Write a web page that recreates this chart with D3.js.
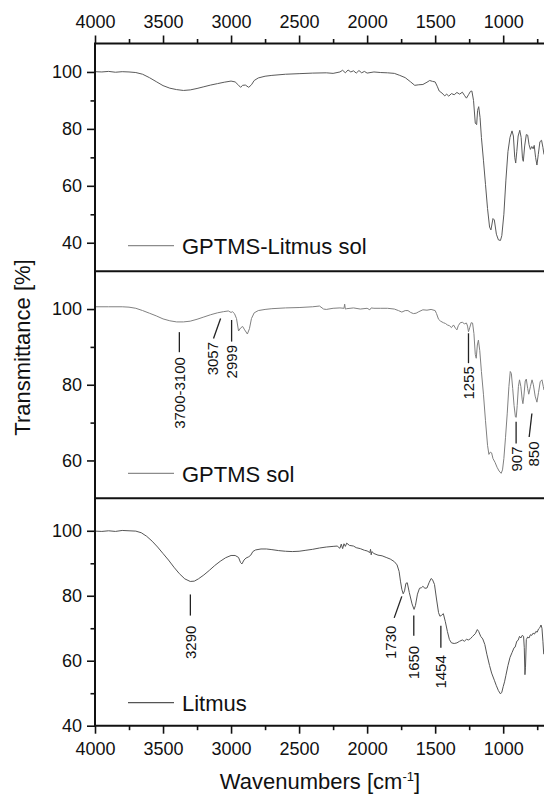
<!DOCTYPE html>
<html>
<head>
<meta charset="utf-8">
<title>FTIR spectra</title>
<script src="https://d3js.org/d3.v7.min.js"></script>
<style>
  body { margin: 0; background: #fff; }
  svg text { font-family: "Liberation Sans", Arial, sans-serif; fill: #111; }
</style>
</head>
<body>
<svg id="chart" width="544" height="794"></svg>
<script>
// spectra: [wavenumber cm-1, transmittance %]
var hybridSpectrum = [
  [4000,100.1],[3950,100.0],[3900,100.2],[3850,99.9],[3800,100.1],[3750,100.0],[3700,99.8],[3650,99.2],
  [3600,98.0],[3550,96.6],[3500,95.2],[3450,94.3],[3400,93.8],[3350,93.5],[3300,93.7],[3250,94.2],
  [3200,94.8],[3150,95.4],[3100,95.9],[3050,96.4],[3000,96.8],[2970,96.5],[2950,95.6],[2930,94.6],
  [2915,95.3],[2895,95.4],[2870,94.6],[2850,95.5],[2830,97.0],[2800,97.9],[2750,98.5],[2700,98.8],
  [2600,99.2],[2500,99.4],[2400,99.6],[2300,99.7],[2250,99.5],[2200,100.0],[2180,100.6],[2160,99.7],
  [2140,100.7],[2120,100.0],[2100,100.4],[2080,99.6],[2060,100.5],[2040,99.7],[2020,100.2],[2000,99.6],
  [1950,100.0],[1900,99.8],[1850,99.7],[1800,99.5],[1760,98.8],[1720,98.0],[1680,96.5],[1650,95.3],
  [1620,95.5],[1590,95.6],[1560,96.4],[1540,97.0],[1520,96.7],[1500,96.5],[1485,95.0],[1470,93.3],
  [1450,92.6],[1430,91.6],[1415,92.2],[1400,91.5],[1380,92.4],[1360,92.0],[1340,92.8],[1320,92.2],
  [1300,92.9],[1285,91.8],[1270,90.8],[1255,92.0],[1240,93.2],[1230,93.3],[1218,90.0],[1205,82.0],
  [1195,81.5],[1188,86.5],[1180,87.8],[1170,84.0],[1160,77.0],[1145,69.0],[1130,60.5],[1115,52.0],
  [1100,45.5],[1090,44.5],[1075,48.5],[1065,48.0],[1050,43.0],[1035,41.0],[1020,40.8],[1010,42.5],
  [995,50.0],[980,62.0],[965,72.0],[950,77.0],[935,79.3],[925,77.5],[915,70.0],[908,68.0],
  [900,72.0],[890,77.5],[878,79.5],[868,77.0],[858,69.5],[852,68.6],[842,74.0],[830,78.0],
  [820,77.8],[810,74.5],[800,72.8],[790,73.8],[780,73.0],[772,74.2],[762,70.0],[752,67.3],
  [742,71.0],[730,75.5],[718,76.0],[708,73.5],[700,71.0]
];

var gptmsSpectrum = [
  [4000,100.6],[3900,100.6],[3800,100.6],[3750,100.5],[3700,100.2],[3650,99.6],[3600,98.9],[3550,98.2],
  [3500,97.4],[3450,96.9],[3400,96.6],[3350,96.6],[3300,96.8],[3250,97.3],[3200,97.9],[3150,98.5],
  [3100,99.0],[3057,99.3],[3020,99.5],[3000,99.1],[2990,99.3],[2975,98.8],[2960,97.5],[2945,94.2],
  [2930,95.0],[2915,95.4],[2900,94.5],[2880,93.4],[2865,94.8],[2850,97.5],[2830,99.0],[2800,99.6],
  [2750,99.9],[2700,100.1],[2600,100.3],[2500,100.4],[2400,100.6],[2350,100.8],[2320,100.0],[2300,99.9],
  [2250,100.2],[2200,100.3],[2170,100.2],[2165,101.3],[2160,100.0],[2150,100.1],[2100,100.3],[2050,100.0],
  [2000,100.2],[1980,99.8],[1970,100.3],[1950,100.2],[1900,100.2],[1850,100.2],[1800,100.0],[1770,99.6],
  [1745,99.2],[1720,99.6],[1700,99.6],[1680,99.1],[1660,98.8],[1640,98.9],[1620,99.3],[1590,99.8],
  [1560,99.7],[1530,99.9],[1500,99.6],[1490,98.8],[1475,97.3],[1460,96.8],[1440,96.4],[1425,96.2],
  [1410,95.8],[1395,95.6],[1380,95.1],[1365,95.8],[1350,94.9],[1340,94.5],[1330,95.6],[1315,96.4],
  [1300,96.5],[1285,96.1],[1270,96.3],[1262,95.5],[1255,94.0],[1245,95.2],[1235,96.4],[1225,96.3],
  [1215,93.5],[1205,88.0],[1198,87.0],[1190,90.5],[1182,91.8],[1172,89.0],[1160,83.5],[1145,77.5],
  [1130,70.5],[1115,64.0],[1105,61.6],[1095,62.2],[1085,62.0],[1075,60.5],[1060,59.5],[1045,58.2],
  [1030,57.2],[1015,56.6],[1005,57.5],[995,60.5],[983,66.0],[970,72.5],[958,79.5],[948,83.5],
  [940,83.0],[930,79.0],[920,74.5],[910,71.5],[904,71.4],[897,74.5],[888,79.5],[880,81.3],
  [870,79.5],[860,76.0],[855,75.0],[848,77.0],[838,81.0],[830,81.5],[820,79.0],[812,77.5],
  [800,79.5],[788,81.3],[778,80.0],[765,77.0],[752,75.4],[740,78.0],[728,80.8],[715,81.3],
  [705,79.5],[700,78.6]
];

var litmusSpectrum = [
  [4000,99.9],[3950,99.8],[3900,100.0],[3850,99.8],[3800,100.1],[3750,100.0],[3700,99.9],[3660,99.4],
  [3620,98.3],[3580,96.8],[3540,95.0],[3500,93.0],[3460,91.0],[3420,88.8],[3380,86.8],[3340,85.2],
  [3300,84.4],[3270,84.5],[3240,85.2],[3200,86.4],[3160,87.8],[3120,89.3],[3080,90.6],[3040,91.7],
  [3000,92.4],[2970,92.4],[2945,91.8],[2930,90.2],[2920,89.8],[2905,91.0],[2890,91.6],[2870,92.0],
  [2855,92.5],[2840,93.6],[2820,94.1],[2780,94.4],[2740,94.4],[2700,94.2],[2650,93.9],[2600,93.7],
  [2550,93.6],[2500,93.7],[2450,94.0],[2400,94.3],[2350,94.7],[2300,95.0],[2250,95.2],[2220,95.3],
  [2200,94.6],[2190,95.9],[2180,94.5],[2170,96.0],[2160,95.2],[2150,96.2],[2130,95.5],[2100,95.3],
  [2080,94.8],[2050,94.5],[2020,94.0],[2000,93.8],[1980,93.3],[1975,94.3],[1970,92.6],[1965,93.6],
  [1950,93.0],[1920,92.5],[1890,92.3],[1860,91.8],[1830,91.3],[1800,90.5],[1780,89.5],[1765,87.5],
  [1755,84.5],[1745,82.0],[1735,80.6],[1725,81.5],[1715,83.8],[1705,84.0],[1690,81.0],[1670,77.5],
  [1655,75.8],[1645,77.0],[1630,80.5],[1615,82.3],[1600,82.5],[1590,82.9],[1575,82.3],[1560,82.4],
  [1545,84.0],[1530,85.3],[1520,85.0],[1505,83.5],[1490,79.0],[1475,74.8],[1465,73.7],[1452,74.0],
  [1440,74.5],[1425,72.0],[1410,69.0],[1395,66.5],[1380,65.5],[1360,65.3],[1340,65.5],[1320,66.0],
  [1300,66.4],[1285,66.0],[1270,66.6],[1255,66.4],[1240,66.8],[1225,67.5],[1205,68.3],[1190,69.6],
  [1180,69.0],[1165,67.5],[1150,66.7],[1135,65.0],[1120,62.0],[1100,58.5],[1085,56.2],[1065,54.0],
  [1050,52.3],[1035,50.8],[1020,49.8],[1010,50.3],[1000,52.0],[990,53.5],[980,55.5],[965,58.5],
  [950,61.0],[935,62.5],[920,64.0],[912,64.2],[900,66.0],[890,66.3],[880,67.5],[870,67.0],
  [860,67.8],[850,67.5],[845,64.0],[840,55.7],[836,58.0],[830,66.5],[820,67.3],[810,67.0],
  [800,68.0],[790,67.8],[780,68.5],[770,68.2],[760,69.0],[750,68.8],[740,69.8],[730,70.2],
  [722,71.0],[715,70.0],[708,66.0],[702,62.0]
];

var seriesNames = ["GPTMS-Litmus sol", "GPTMS sol", "Litmus"];
var yDomains = [[30, 110], [50, 110], [40, 110]];
var xMajorTicks = [4000, 3500, 3000, 2500, 2000, 1500, 1000];
var xMinorTicks = [3750, 3250, 2750, 2250, 1750, 1250, 750];

// band labels: text, line top [wn, T], line bottom [wn, T], text start [wn, T]
var gptmsBands = [
  ["3700-3100", [3380, 93.9], [3380, 88.6], [3380, 87.3]],
  ["3057", [3077, 97.5], [3129, 92.2], [3136, 91.3]],
  ["2999", [2996, 97.1], [2996, 91.4], [2996, 90.5]],
  ["1255", [1255, 93.6], [1255, 85.7], [1255, 84.9]],
  ["907", [905, 70.2], [905, 64.5], [905, 63.7]],
  ["850", [789, 72.4], [809, 66.2], [778, 65.0]]
];
var litmusBands = [
  ["3290", [3299, 80.4], [3299, 73.9], [3299, 70.8]],
  ["1730", [1745, 79.8], [1801, 73.2], [1831, 70.8]],
  ["1650", [1657, 73.9], [1657, 67.7], [1657, 64.6]],
  ["1454", [1458, 70.8], [1458, 64.0], [1458, 61.7]]
];

var panels = [
  { data: hybridSpectrum, top: 43.5, bottom: 271.2, stroke: "#5a5a5a", key: "#8c8c8c", legendY: 245.7, bands: [] },
  { data: gptmsSpectrum, top: 271.2, bottom: 498.3, stroke: "#808080", key: "#8c8c8c", legendY: 473.3, bands: gptmsBands },
  { data: litmusSpectrum, top: 498.3, bottom: 725.7, stroke: "#555", key: "#555", legendY: 702.7, bands: litmusBands }
];

var svg = d3.select("#chart");
var left = 95, right = 544;

var x = d3.scaleLinear().domain([4000, 700]).range([left, right]);

var line = d3.line();

panels.forEach(function(p, i) {
  var y = d3.scaleLinear().domain(yDomains[i]).range([p.bottom, p.top]);
  var lo = yDomains[i][0], hi = yDomains[i][1];

  var clipId = "clip" + i;
  svg.append("clipPath").attr("id", clipId)
    .append("rect").attr("x", left).attr("y", p.top)
    .attr("width", right - left).attr("height", p.bottom - p.top);

  svg.append("path")
    .attr("clip-path", "url(#" + clipId + ")")
    .attr("d", line.x(function(d) { return x(d[0]); }).y(function(d) { return y(d[1]); })(p.data))
    .attr("fill", "none")
    .attr("stroke", p.stroke)
    .attr("stroke-width", 1)
    .attr("stroke-linejoin", "round");

  // y axis, major and minor ticks
  var major = d3.range(lo, hi + 1, 10).filter(function(v) { return v % 20 === 0; });
  var minor = d3.range(lo, hi + 1, 10).filter(function(v) { return v % 20 !== 0 && v > lo && v < hi; });
  var ya = svg.append("g").attr("transform", "translate(" + left + ",0)")
    .call(d3.axisLeft(y).tickValues(major).tickSize(8).tickPadding(5).tickFormat(d3.format("d")));
  ya.select(".domain").remove();
  ya.selectAll("text").style("font-size", "18px");
  ya.selectAll("line").attr("stroke", "#111").attr("stroke-width", 1.6);
  var ym = svg.append("g").attr("transform", "translate(" + left + ",0)")
    .call(d3.axisLeft(y).tickValues(minor).tickSize(4.5).tickFormat(""));
  ym.select(".domain").remove();
  ym.selectAll("line").attr("stroke", "#111").attr("stroke-width", 1.6);

  // legend
  svg.append("line")
    .attr("x1", 128).attr("x2", 174)
    .attr("y1", p.legendY).attr("y2", p.legendY)
    .attr("stroke", p.key).attr("stroke-width", 1.2);
  svg.append("text")
    .attr("x", 182).attr("y", p.legendY + 8.5)
    .style("font-size", "22px")
    .text(seriesNames[i]);

  // band labels
  p.bands.forEach(function(b) {
    svg.append("line")
      .attr("x1", x(b[1][0])).attr("y1", y(b[1][1]))
      .attr("x2", x(b[2][0])).attr("y2", y(b[2][1]))
      .attr("stroke", "#222").attr("stroke-width", 1.3);
    svg.append("text")
      .attr("transform", "translate(" + x(b[3][0]) + "," + y(b[3][1]) + ") rotate(-90)")
      .attr("text-anchor", "end")
      .attr("dy", "0.36em")
      .style("font-size", "15px")
      .text(b[0]);
  });
});

// x axes top and bottom
function xAxis(gen, yPos, size, pad, labels) {
  var g = svg.append("g").attr("transform", "translate(0," + yPos + ")")
    .call(gen(x).tickValues(labels ? xMajorTicks : xMinorTicks).tickSize(size).tickPadding(pad)
      .tickFormat(labels ? d3.format("d") : ""));
  g.select(".domain").remove();
  g.selectAll("line").attr("stroke", "#111").attr("stroke-width", 1.6);
  g.selectAll("text").style("font-size", "18px");
}
xAxis(d3.axisTop, 43.5, 8, 8, true);
xAxis(d3.axisTop, 43.5, 4.5, 8, false);
xAxis(d3.axisBottom, 725.7, 8, 9, true);
xAxis(d3.axisBottom, 725.7, 4.5, 9, false);

// frame: left spine and panel separators
svg.append("line").attr("x1", left).attr("x2", left).attr("y1", 42.5).attr("y2", 726.7)
  .attr("stroke", "#111").attr("stroke-width", 2);
[43.5, 271.2, 498.3, 725.7].forEach(function(v) {
  svg.append("line").attr("x1", left).attr("x2", right).attr("y1", v).attr("y2", v)
    .attr("stroke", "#111").attr("stroke-width", 2);
});

// axis titles
svg.append("text")
  .attr("transform", "translate(30,347.5) rotate(-90)")
  .attr("text-anchor", "middle")
  .style("font-size", "22px")
  .text("Transmittance [%]");

var xt = svg.append("text")
  .attr("x", 320).attr("y", 789)
  .attr("text-anchor", "middle")
  .style("font-size", "22px");
xt.append("tspan").text("Wavenumbers [cm");
xt.append("tspan").attr("dy", -8).style("font-size", "13px").text("-1");
xt.append("tspan").attr("dy", 8).text("]");
</script>
</body>
</html>
